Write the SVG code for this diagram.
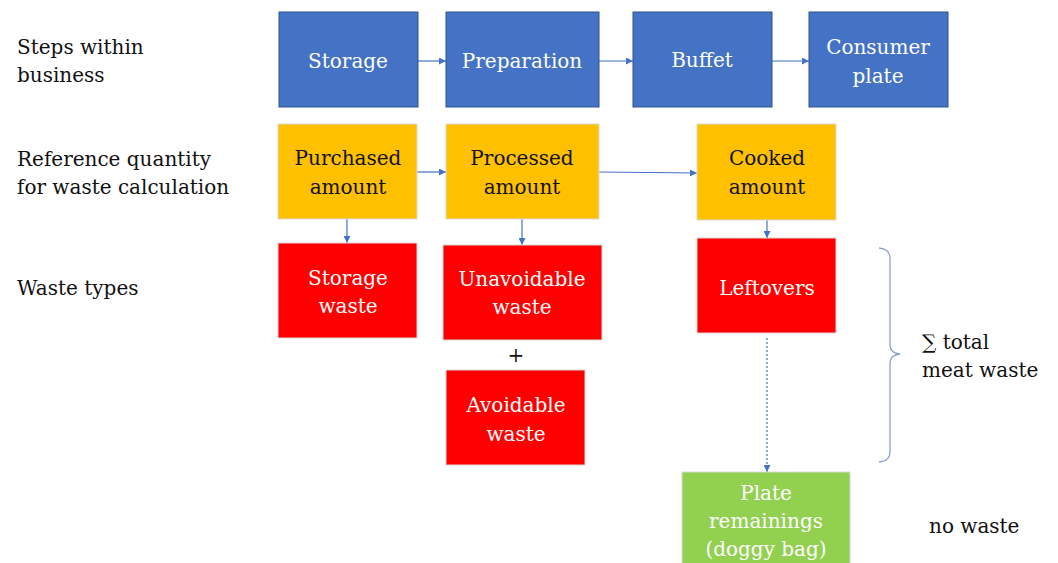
<svg xmlns="http://www.w3.org/2000/svg" width="1058" height="563" viewBox="0 0 1058 563" font-family="'DejaVu Serif', 'Liberation Serif', serif" font-size="20">
<defs>
<marker id="ah" viewBox="0 0 10 10" refX="10" refY="5" markerWidth="7" markerHeight="7" markerUnits="userSpaceOnUse" orient="auto"><path d="M0,0 L10,5 L0,10 z" fill="#4472C4"/></marker>
<style>
.lbl{fill:#111}
.c{text-anchor:middle}
.w{fill:#fff}
.k{fill:#111}
.blue{fill:#4472C4;stroke:#2F528F;stroke-width:1}
.yel{fill:#FFC000;stroke:#D9D9D9;stroke-width:1}
.red{fill:#FF0000;stroke:#D9D9D9;stroke-width:1}
.grn{fill:#92D050;stroke:#D9D9D9;stroke-width:1}
.ln{stroke:#4472C4;stroke-width:1.2;fill:none}
</style>
</defs>
<g id="labels">
<text class="lbl" x="17" y="54">Steps within</text>
<text class="lbl" x="17" y="82">business</text>
<text class="lbl" x="17" y="166">Reference quantity</text>
<text class="lbl" x="17" y="194">for waste calculation</text>
<text class="lbl" x="17" y="295">Waste types</text>
</g>
<g id="connectors">
<line class="ln" x1="418" y1="61" x2="446" y2="61" marker-end="url(#ah)"/>
<line class="ln" x1="599" y1="61" x2="633" y2="61" marker-end="url(#ah)"/>
<line class="ln" x1="772" y1="61" x2="809" y2="61" marker-end="url(#ah)"/>
<line class="ln" x1="417" y1="172" x2="446" y2="172" marker-end="url(#ah)"/>
<line class="ln" x1="599" y1="172" x2="697" y2="173" marker-end="url(#ah)"/>
<line class="ln" x1="347" y1="219" x2="347" y2="243" marker-end="url(#ah)"/>
<line class="ln" x1="522" y1="219" x2="522" y2="245" marker-end="url(#ah)"/>
<line class="ln" x1="767" y1="220" x2="767" y2="238" marker-end="url(#ah)"/>
<line class="ln" x1="767" y1="338" x2="767" y2="472" stroke-dasharray="2,2" marker-end="url(#ah)"/>
</g>
<g id="storage"><rect class="blue" x="279" y="12" width="139" height="95"/><text class="c w" x="348" y="68">Storage</text></g>
<g id="preparation"><rect class="blue" x="446" y="12" width="153" height="95"/><text class="c w" x="522" y="68">Preparation</text></g>
<g id="buffet"><rect class="blue" x="633" y="12" width="139" height="95"/><text class="c w" x="702" y="67">Buffet</text></g>
<g id="consumer"><rect class="blue" x="809" y="12" width="139" height="95"/><text class="c w" x="878" y="54">Consumer</text><text class="c w" x="878" y="83">plate</text></g>
<g id="purchased"><rect class="yel" x="278" y="124" width="139" height="95"/><text class="c k" x="348" y="165">Purchased</text><text class="c k" x="348" y="194">amount</text></g>
<g id="processed"><rect class="yel" x="446" y="124" width="153" height="95"/><text class="c k" x="522" y="165">Processed</text><text class="c k" x="522" y="194">amount</text></g>
<g id="cooked"><rect class="yel" x="697" y="124" width="139" height="96"/><text class="c k" x="767" y="165">Cooked</text><text class="c k" x="767" y="194">amount</text></g>
<g id="storagewaste"><rect class="red" x="278" y="243" width="139" height="95"/><text class="c w" x="348" y="285">Storage</text><text class="c w" x="348" y="313">waste</text></g>
<g id="unavoidable"><rect class="red" x="443" y="245" width="159" height="95"/><text class="c w" x="522" y="286">Unavoidable</text><text class="c w" x="522" y="314">waste</text></g>
<g id="plus"><text class="c k" x="516" y="362">+</text></g>
<g id="avoidable"><rect class="red" x="446" y="370" width="139" height="95"/><text class="c w" x="516" y="412">Avoidable</text><text class="c w" x="516" y="441">waste</text></g>
<g id="leftovers"><rect class="red" x="697" y="238" width="139" height="95"/><text class="c w" x="767" y="295">Leftovers</text></g>
<g id="plate"><rect class="grn" x="682" y="472" width="168" height="95"/><text class="c w" x="766" y="500">Plate</text><text class="c w" x="766" y="528">remainings</text><text class="c w" x="766" y="556">(doggy bag)</text></g>
<g id="brace"><path d="M879,248 Q890,249 890,258 L890,345 Q890,353 900,354 Q890,355 890,363 L890,452 Q890,461 879,462" fill="none" stroke="#8FA3C8" stroke-width="1.3"/></g>
<g id="total"><text class="k" x="922" y="349">∑ total</text><text class="k" x="922" y="377">meat waste</text></g>
<g id="nowaste"><text class="k" x="929" y="533">no waste</text></g>
</svg>
